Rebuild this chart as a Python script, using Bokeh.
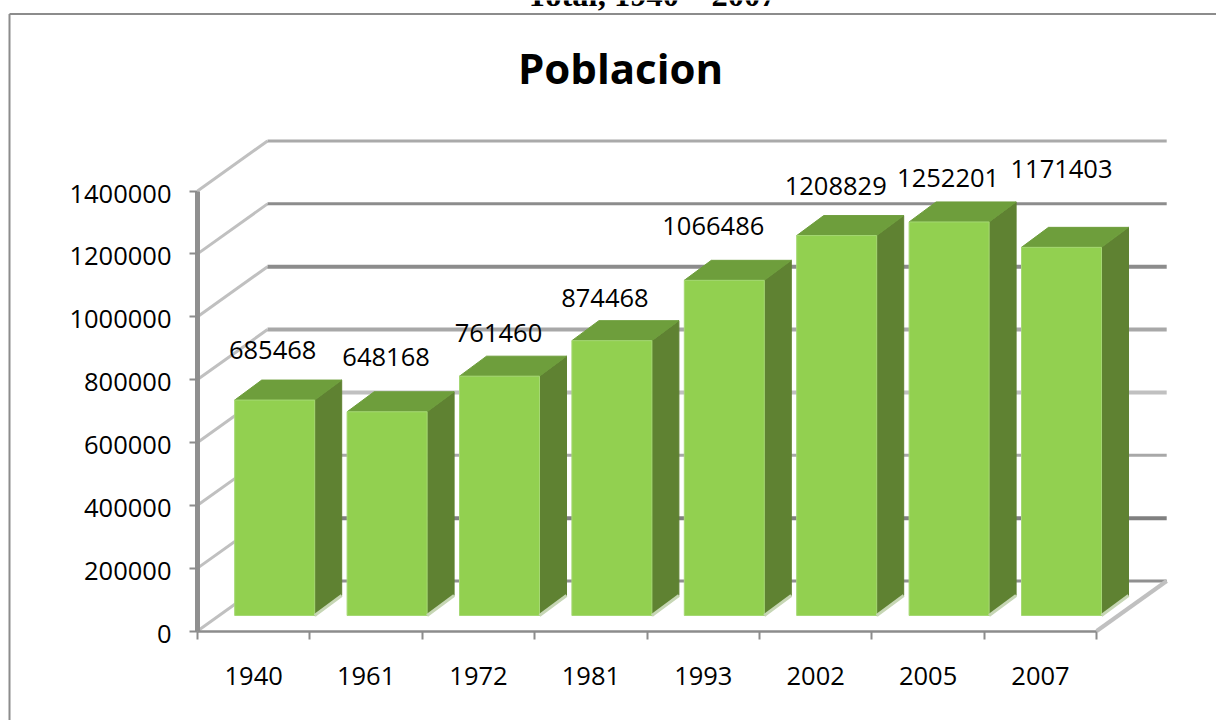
from bokeh.plotting import figure, ColumnDataSource
from bokeh.models import LinearAxis, FixedTicker, Range1d
from bokeh.core.properties import value
from bokeh.embed import file_html
from bokeh.resources import INLINE

years = ["1940", "1961", "1972", "1981", "1993", "2002", "2005", "2007"]
poblacion = [685468, 648168, 761460, 874468, 1066486, 1208829, 1252201, 1171403]
y_ticks = [0, 200000, 400000, 600000, 800000, 1000000, 1200000, 1400000]
chart_title = "Poblacion"
page_heading = "Total, 1940 – 2007"

# layout / styling (pixels of the 1216x720 canvas)
W, H = 1216, 720
PX_X = 112.4            # pixels per category
PX_Y = 1400000 / 440.0  # value per pixel
X0, Y0 = 197.0, 630.5   # pixel position of the axis origin
WALL_DX, WALL_DY = 70 / PX_X, 50 * PX_Y
BAR_SHIFT, BAR_W = 21 / PX_X, 80 / PX_X
BAR_BASE = 15.5 * PX_Y
BAR_DX, BAR_DY = 27 / PX_X, 20 * PX_Y
label_dx = [-2, -1, -1, -7, -11, -1, -1, 0]
label_lift = [50, 55, 43, 43, 54, 50, 44, 78]
grid_colors = ["#909090", "#808080", "#a8a8a8", "#c0c0c0", "#a8a8a8", "#8c8c8c", "#8c8c8c", "#aaaaaa"]
grid_widths = [3, 4, 3, 4, 4, 4, 3, 3]
GREY = "#8c8c8c"
FONT = "Open Sans"
LABEL_SIZE = "25.5px"
LABEL_DROP = 2.5 * PX_Y  # y tick labels sit slightly below their ticks


def px(x):
    return 0.5 + (x - X0) / PX_X


def py(y):
    return (Y0 - y) * PX_Y


p = figure(width=W, height=H, output_backend="svg", toolbar_location=None,
           x_range=Range1d(px(0), px(W)), y_range=Range1d(py(H), py(0)),
           min_border=0, min_border_left=0, min_border_right=0, min_border_top=0, min_border_bottom=0,
           x_axis_type=None, y_axis_type=None, background_fill_color="white",
           border_fill_color="white", outline_line_color=None)
p.grid.visible = False
p.extra_y_ranges = {"labels": Range1d(py(H) + LABEL_DROP, py(0) + LABEL_DROP)}

# chart area border (only the top and left edges fall inside the picture)
p.line([px(9), px(9)], [py(13.5), py(H)], line_color=GREY, line_width=2)
p.line([px(9), px(W)], [py(13.5), py(13.5)], line_color=GREY, line_width=2)

# walls
xl, xr = 0.5, 0.5 + len(years)
for t, c, w in zip(y_ticks, grid_colors, grid_widths):
    p.line([xl, xl + WALL_DX], [t, t + WALL_DY], line_color="#c0c0c0", line_width=3)
    p.line([xl + WALL_DX, xr + WALL_DX], [t + WALL_DY, t + WALL_DY], line_color=c, line_width=w)
p.line([xr, xr + WALL_DX], [0, WALL_DY], line_color="#c0c0c0", line_width=4)

# axes
yax = LinearAxis(ticker=FixedTicker(ticks=y_ticks), fixed_location=0.5, bounds=(0, 1400000),
                 axis_line_color="#8f8f8f", axis_line_width=5, major_tick_line_color=GREY,
                 major_tick_line_width=2, major_tick_in=0, major_tick_out=8,
                 minor_tick_line_color=None,
                 major_label_overrides={t: "" for t in y_ticks})
p.add_layout(yax, "left")

ylab = LinearAxis(y_range_name="labels", ticker=FixedTicker(ticks=y_ticks), fixed_location=0.5,
                  axis_line_color=None, major_tick_line_color=None, minor_tick_line_color=None,
                  major_label_standoff=20, major_label_text_font=FONT,
                  major_label_text_font_size=LABEL_SIZE, major_label_text_color="#000000")
ylab.formatter.use_scientific = False
p.add_layout(ylab, "left")

edges = [i + 0.5 for i in range(len(years) + 1)]
xax = LinearAxis(ticker=FixedTicker(ticks=edges), fixed_location=0, bounds=(edges[0], edges[-1]),
                 axis_line_color=GREY, axis_line_width=2.5, major_tick_line_color=GREY,
                 major_tick_line_width=2, major_tick_in=0, major_tick_out=8, minor_tick_line_color=None,
                 major_label_overrides={e: "" for e in edges})
p.add_layout(xax, "below")

centers = [i + 1 for i in range(len(years))]
xlab = LinearAxis(ticker=FixedTicker(ticks=centers), fixed_location=0, axis_line_color=None,
                  major_tick_line_color=None, minor_tick_line_color=None, major_label_standoff=30,
                  major_label_text_font=FONT, major_label_text_font_size=LABEL_SIZE,
                  major_label_text_color="#000000",
                  major_label_overrides={c: y for c, y in zip(centers, years)})
p.add_layout(xlab, "below")

# 3D bars
left = [c + BAR_SHIFT - BAR_W / 2 for c in centers]
right = [c + BAR_SHIFT + BAR_W / 2 for c in centers]
bottom = [BAR_BASE for _ in poblacion]
top = [BAR_BASE + v for v in poblacion]

p.patches([[r, r + BAR_DX, r + BAR_DX, r] for r in right],
          [[BAR_BASE, BAR_BASE + BAR_DY, t + BAR_DY, t] for t in top],
          fill_color="#5f8232", line_color="#5f8232", line_width=1)
p.patches([[l, r, r + BAR_DX, l + BAR_DX] for l, r in zip(left, right)],
          [[t, t, t + BAR_DY, t + BAR_DY] for t in top],
          fill_color="#6e9e3c", line_color="#6e9e3c", line_width=1)
p.quad(left=left, right=right, bottom=bottom, top=top, fill_color="#92d050", line_color="#a5d873", line_width=1)
p.segment(right, bottom, [r + BAR_DX for r in right], [BAR_BASE + BAR_DY] * len(right),
          line_color="#c6d6b4", line_width=3)

# data labels
src = ColumnDataSource(dict(x=[c + BAR_SHIFT for c in centers], y=top,
                            text=[str(v) for v in poblacion],
                            dx=label_dx, dy=[-l for l in label_lift]))
p.text("x", "y", text="text", source=src, x_offset="dx", y_offset="dy", text_align="center",
       text_baseline="middle", text_font=value(FONT), text_font_size=LABEL_SIZE, text_color="#000000")

# titles
p.text([px(620)], [py(67)], text=[chart_title], text_align="center", text_baseline="middle",
       text_font=value(FONT), text_font_style="bold", text_font_size="42px", text_color="#000000")
p.text([px(651)], [py(8)], text=[page_heading], y_offset=-14, text_align="center", text_baseline="alphabetic",
       text_font=value("Liberation Serif"), text_font_style="bold", text_font_size="32.5px", text_color="#000000")

open("out.html", "w").write(file_html(p, INLINE))
